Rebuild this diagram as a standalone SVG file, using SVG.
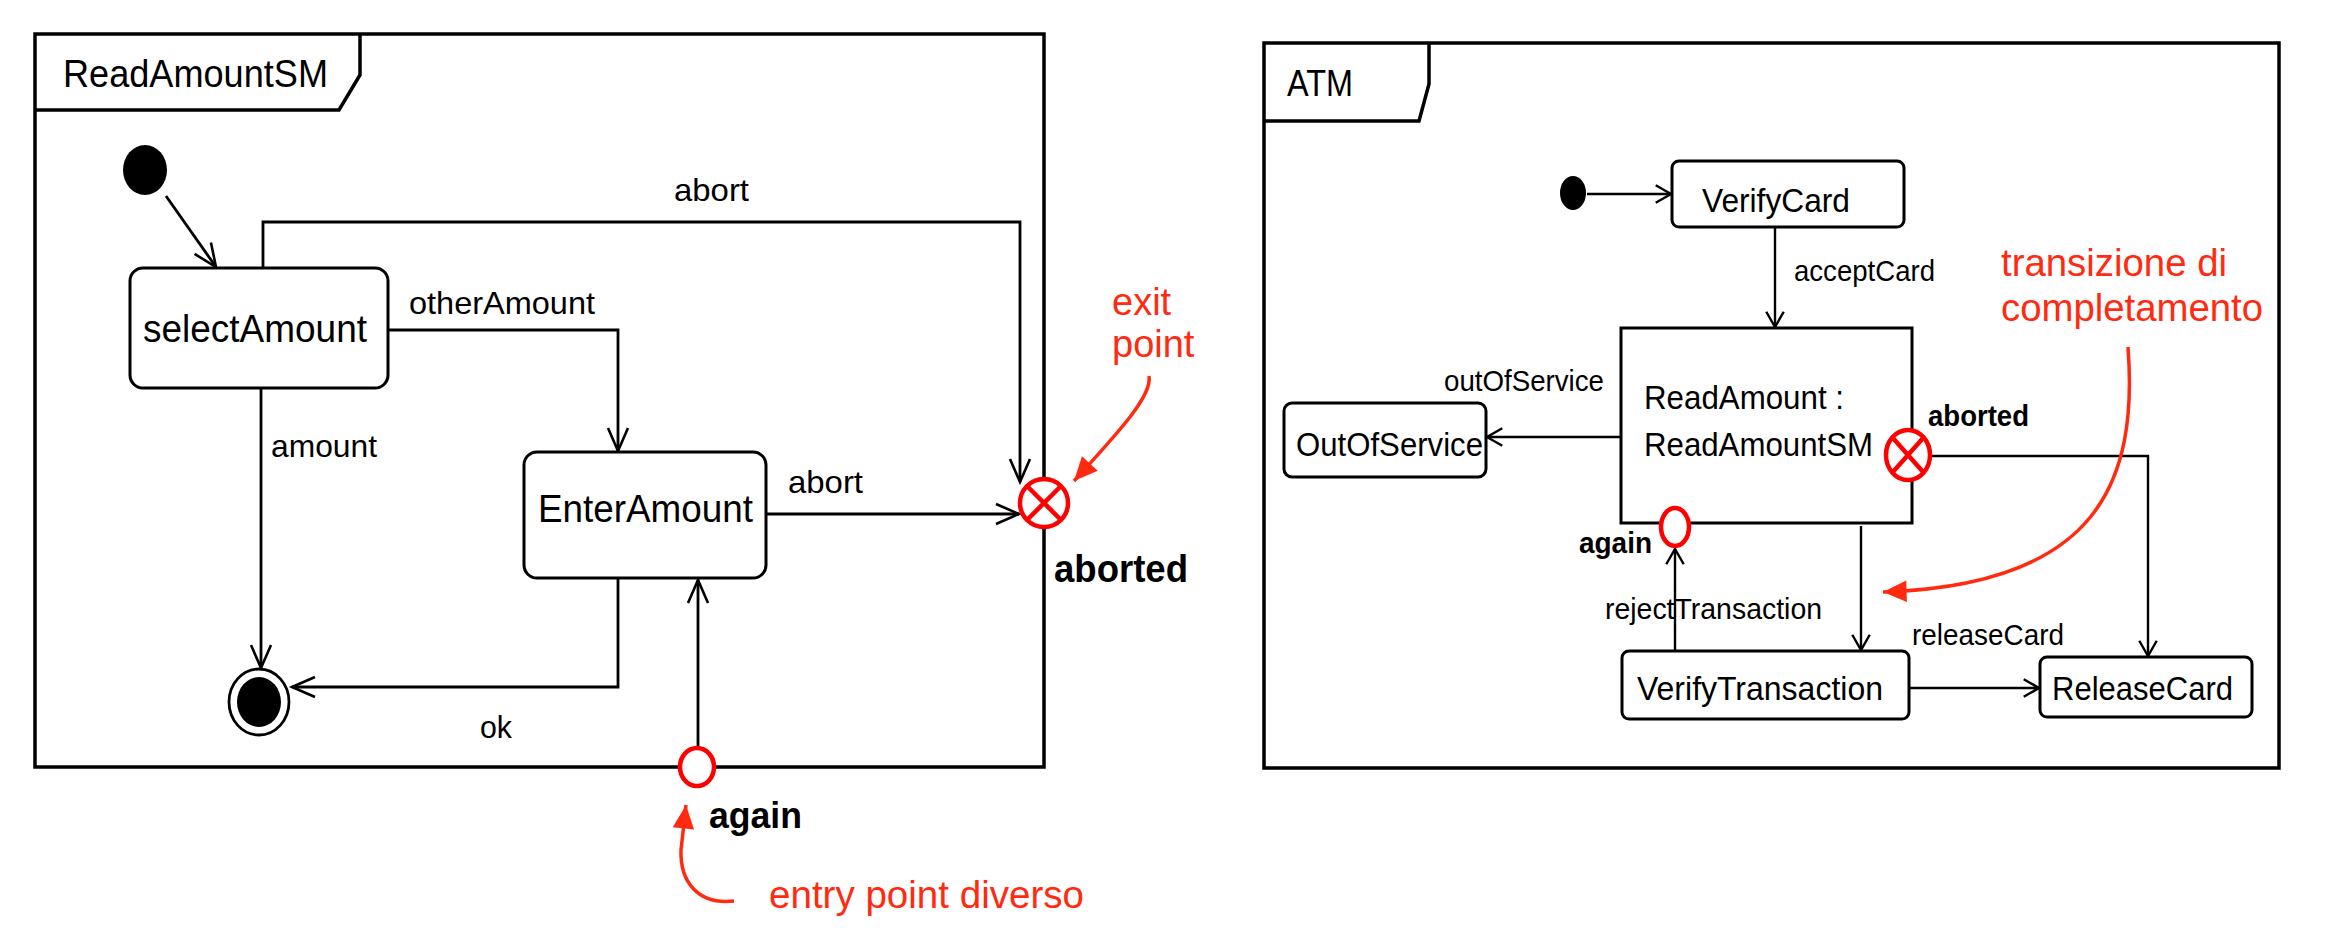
<svg xmlns="http://www.w3.org/2000/svg" width="2334" height="936" viewBox="0 0 2334 936">
<style>
.frame{fill:none;stroke:#000;stroke-width:3.5}
.node{fill:#fff;stroke:#000;stroke-width:3}
.conn{fill:none;stroke:#000;stroke-width:2.8}
.connR{fill:none;stroke:#000;stroke-width:2.4}
.t{font-family:"Liberation Sans",Arial,sans-serif;fill:#000}
.b{font-family:"Liberation Sans",Arial,sans-serif;font-weight:bold;fill:#000}
.red{font-family:"Liberation Sans",Arial,sans-serif;fill:#ff2a10;font-size:38px}
.pt{fill:#fff;stroke:#f00;stroke-width:4.5}
.ptx{stroke:#f00;stroke-width:4.5}
.ann{fill:none;stroke:#ff2a10;stroke-width:3.5}
</style>
<defs>
<marker id="vL" markerUnits="userSpaceOnUse" markerWidth="30" markerHeight="30" viewBox="-26 -14 30 28" refX="0" refY="0" orient="auto">
<path d="M-23,-10 L0,0 L-23,10" fill="none" stroke="#000" stroke-width="2.6"/>
</marker>
<marker id="vR" markerUnits="userSpaceOnUse" markerWidth="24" markerHeight="24" viewBox="-18 -10 22 20" refX="0" refY="0" orient="auto">
<path d="M-14,-8 L0,0 L-14,8" fill="none" stroke="#000" stroke-width="2.2"/>
</marker>
<marker id="redA" markerUnits="userSpaceOnUse" markerWidth="30" markerHeight="30" viewBox="-24 -14 28 28" refX="0" refY="0" orient="auto">
<path d="M-22,-10 L0,0 L-22,10 Z" fill="#ff2a10"/>
</marker>
</defs>

<!-- ============ Left diagram: ReadAmountSM ============ -->
<g id="frame-ReadAmountSM">
<rect class="frame" x="35" y="34" width="1009" height="733"/>
<path class="frame" d="M35,110 L339,110 L360,75 L360,34"/>
<text class="t" x="63" y="87" font-size="38" textLength="265" lengthAdjust="spacingAndGlyphs">ReadAmountSM</text>
</g>

<g id="connectors-left">
<path class="conn" d="M166,196 L216,267" marker-end="url(#vL)"/>
<path class="conn" d="M263,268 L263,222 L1020,222 L1020,482" marker-end="url(#vL)"/>
<path class="conn" d="M388,330 L618,330 L618,451" marker-end="url(#vL)"/>
<path class="conn" d="M261,388 L261,668" marker-end="url(#vL)"/>
<path class="conn" d="M766,514 L1019,514" marker-end="url(#vL)"/>
<path class="conn" d="M618,578 L618,687 L292,687" marker-end="url(#vL)"/>
<path class="conn" d="M698,747 L698,580" marker-end="url(#vL)"/>
<text class="t" x="674" y="201" font-size="32" textLength="75" lengthAdjust="spacingAndGlyphs">abort</text>
<text class="t" x="409" y="314" font-size="32" textLength="186" lengthAdjust="spacingAndGlyphs">otherAmount</text>
<text class="t" x="271" y="457" font-size="32" textLength="106" lengthAdjust="spacingAndGlyphs">amount</text>
<text class="t" x="788" y="493" font-size="32" textLength="75" lengthAdjust="spacingAndGlyphs">abort</text>
<text class="t" x="480" y="738" font-size="32" textLength="32" lengthAdjust="spacingAndGlyphs">ok</text>
</g>

<g id="initial-left">
<ellipse cx="145" cy="170" rx="22" ry="25" fill="#000"/>
</g>

<g id="selectAmount">
<rect class="node" x="130" y="268" width="258" height="120" rx="13"/>
<text class="t" x="143" y="342" font-size="38" textLength="224" lengthAdjust="spacingAndGlyphs">selectAmount</text>
</g>

<g id="EnterAmount">
<rect class="node" x="524" y="452" width="242" height="126" rx="13"/>
<text class="t" x="538" y="522" font-size="38" textLength="215" lengthAdjust="spacingAndGlyphs">EnterAmount</text>
</g>

<g id="final-left">
<ellipse cx="259" cy="702" rx="30" ry="33" fill="#fff" stroke="#000" stroke-width="2.8"/>
<ellipse cx="259" cy="702" rx="22" ry="25" fill="#000"/>
</g>

<g id="exit-aborted-left">
<circle class="pt" cx="1044" cy="503" r="24"/>
<path class="ptx" d="M1027,486 L1061,520 M1061,486 L1027,520"/>
<text class="b" x="1054" y="582" font-size="38" textLength="134" lengthAdjust="spacingAndGlyphs">aborted</text>
</g>

<g id="entry-again-left">
<ellipse class="pt" cx="697" cy="767" rx="17" ry="19"/>
<text class="b" x="709" y="828" font-size="37" textLength="93" lengthAdjust="spacingAndGlyphs">again</text>
</g>

<g id="annotations-left">
<text class="red" x="1112" y="315">exit</text>
<text class="red" x="1112" y="357">point</text>
<path class="ann" d="M1149,376 C1153,396 1115,436 1074,481" marker-end="url(#redA)"/>
<text class="red" x="769" y="908" textLength="315" lengthAdjust="spacingAndGlyphs">entry point diverso</text>
<path class="ann" d="M734,901 C698,905 680,882 681,850 L686,805" marker-end="url(#redA)"/>
</g>

<!-- ============ Right diagram: ATM ============ -->
<g id="frame-ATM">
<rect class="frame" x="1264" y="43" width="1015" height="725"/>
<path class="frame" d="M1264,121 L1419,121 L1429,84 L1429,43"/>
<text class="t" x="1287" y="96" font-size="36" textLength="66" lengthAdjust="spacingAndGlyphs">ATM</text>
</g>

<g id="connectors-right">
<path class="connR" d="M1587,194 L1671,194" marker-end="url(#vR)"/>
<path class="connR" d="M1775,227 L1775,327" marker-end="url(#vR)"/>
<path class="connR" d="M1621,437 L1487,437" marker-end="url(#vR)"/>
<path class="connR" d="M1931,456 L2148,456 L2148,656" marker-end="url(#vR)"/>
<path class="connR" d="M1861,526 L1861,650" marker-end="url(#vR)"/>
<path class="connR" d="M1675,651 L1675,549" marker-end="url(#vR)"/>
<path class="connR" d="M1909,688 L2039,688" marker-end="url(#vR)"/>
<text class="t" x="1794" y="281" font-size="30" textLength="141" lengthAdjust="spacingAndGlyphs">acceptCard</text>
<text class="t" x="1444" y="391" font-size="30" textLength="160" lengthAdjust="spacingAndGlyphs">outOfService</text>
<text class="t" x="1605" y="619" font-size="30" textLength="217" lengthAdjust="spacingAndGlyphs">rejectTransaction</text>
<text class="t" x="1912" y="645" font-size="30" textLength="152" lengthAdjust="spacingAndGlyphs">releaseCard</text>
</g>

<g id="initial-right">
<ellipse cx="1573" cy="193" rx="13" ry="17" fill="#000"/>
</g>

<g id="VerifyCard">
<rect class="node" x="1672" y="161" width="232" height="66" rx="7"/>
<text class="t" x="1702" y="212" font-size="34" textLength="148" lengthAdjust="spacingAndGlyphs">VerifyCard</text>
</g>

<g id="ReadAmount">
<rect class="node" x="1621" y="328" width="291" height="195"/>
<text class="t" x="1644" y="409" font-size="34" textLength="200" lengthAdjust="spacingAndGlyphs">ReadAmount :</text>
<text class="t" x="1644" y="456" font-size="34" textLength="229" lengthAdjust="spacingAndGlyphs">ReadAmountSM</text>
</g>

<g id="OutOfService">
<rect class="node" x="1284" y="403" width="202" height="74" rx="8"/>
<text class="t" x="1296" y="456" font-size="34" textLength="187" lengthAdjust="spacingAndGlyphs">OutOfService</text>
</g>

<g id="VerifyTransaction">
<rect class="node" x="1622" y="651" width="287" height="68" rx="7"/>
<text class="t" x="1637" y="700" font-size="34" textLength="246" lengthAdjust="spacingAndGlyphs">VerifyTransaction</text>
</g>

<g id="ReleaseCard">
<rect class="node" x="2040" y="657" width="212" height="60" rx="7"/>
<text class="t" x="2052" y="700" font-size="34" textLength="181" lengthAdjust="spacingAndGlyphs">ReleaseCard</text>
</g>

<g id="exit-aborted-right">
<ellipse class="pt" cx="1908" cy="455" rx="22" ry="25"/>
<path class="ptx" d="M1892,437 L1924,473 M1924,437 L1892,473"/>
<text class="b" x="1928" y="426" font-size="30" textLength="101" lengthAdjust="spacingAndGlyphs">aborted</text>
</g>

<g id="entry-again-right">
<ellipse class="pt" cx="1675" cy="527" rx="14" ry="19"/>
<text class="b" x="1579" y="553" font-size="29" textLength="73" lengthAdjust="spacingAndGlyphs">again</text>
</g>

<g id="annotations-right">
<text class="red" x="2001" y="276" textLength="226" lengthAdjust="spacingAndGlyphs">transizione di</text>
<text class="red" x="2001" y="321" textLength="262" lengthAdjust="spacingAndGlyphs">completamento</text>
<path class="ann" d="M2128,347 C2138,480 2100,585 1883,592" marker-end="url(#redA)"/>
</g>
</svg>
